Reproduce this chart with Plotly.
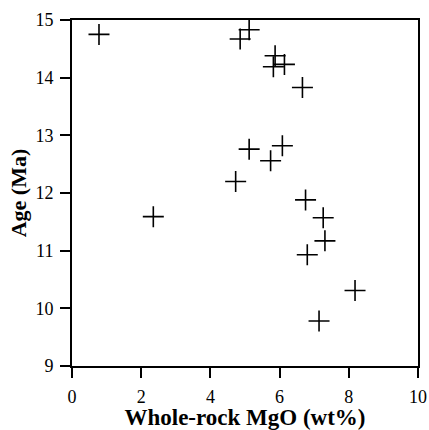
import plotly.graph_objects as go

mgo = [0.78, 4.86, 5.12, 5.87, 5.82, 6.14, 6.66, 5.12, 4.73, 2.35, 6.08, 5.74, 6.75, 7.26, 7.31, 6.80, 8.18, 7.14]
age = [14.75, 14.67, 14.83, 14.38, 14.19, 14.23, 13.83, 12.76, 12.20, 11.59, 12.82, 12.56, 11.88, 11.57, 11.17, 10.93, 10.31, 9.78]

x_ticks = [0, 2, 4, 6, 8, 10]
x_minor = [1, 3, 5, 7, 9]
y_ticks = [9, 10, 11, 12, 13, 14, 15]
y_minor = [9.5, 10.5, 11.5, 12.5, 13.5, 14.5]

W, H = 429, 430
M = dict(l=72, r=11, t=20, b=64)
x_range = [0, 10]
y_range = [9, 15]
px_per_x = (W - M["l"] - M["r"]) / (x_range[1] - x_range[0])
px_per_y = (H - M["t"] - M["b"]) / (y_range[1] - y_range[0])

fig = go.Figure(go.Scatter(
    x=mgo, y=age, mode="markers",
    marker=dict(symbol="cross-thin-open", size=15, color="black",
                line=dict(color="black", width=1.6)),
))

# tick marks drawn as unclipped line markers just outside the axes
MAJOR, MINOR = 10, 5
for vals, ln in ((x_ticks, MAJOR), (x_minor, MINOR)):
    fig.add_trace(go.Scatter(
        x=vals, y=[y_range[0] - (ln / 2) / px_per_y] * len(vals), mode="markers",
        cliponaxis=False, hoverinfo="skip",
        marker=dict(symbol="line-ns", size=ln / 1.4, color="black",
                    line=dict(color="black", width=2)),
    ))
for vals, ln in ((y_ticks, MAJOR), (y_minor, MINOR)):
    fig.add_trace(go.Scatter(
        y=vals, x=[x_range[0] - (ln / 2) / px_per_x] * len(vals), mode="markers",
        cliponaxis=False, hoverinfo="skip",
        marker=dict(symbol="line-ew", size=ln / 1.4, color="black",
                    line=dict(color="black", width=2)),
    ))

font = dict(family="Liberation Serif", color="black")


def axis_cfg(tickvals, rng):
    return dict(
        range=rng,
        showgrid=False, zeroline=False, showline=True, linecolor="black", linewidth=2,
        mirror=True, ticks="outside", ticklen=10, tickwidth=2, tickcolor="black",
        tickvals=tickvals, automargin=False, ticklabelstandoff=3,
        tickfont=dict(size=18, **font),
    )


fig.update_layout(
    template="none",
    width=W, height=H, margin=M,
    plot_bgcolor="white", paper_bgcolor="white", showlegend=False,
    xaxis=dict(title=dict(text="<b>Whole-rock MgO (wt%)</b>", font=dict(size=23, **font), standoff=10),
               **axis_cfg(x_ticks, x_range)),
    yaxis=dict(title=dict(text="<b>Age (Ma)</b>", font=dict(size=22, **font), standoff=3),
               **axis_cfg(y_ticks, y_range)),
)
fig.write_html("out.html")
